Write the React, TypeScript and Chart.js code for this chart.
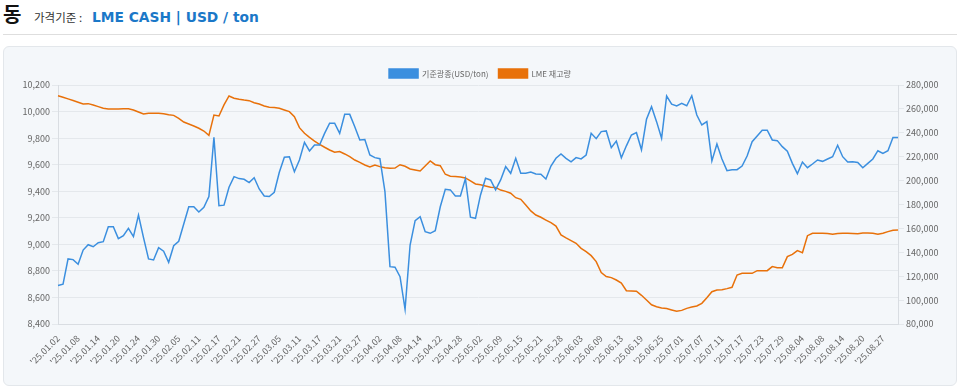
import React, { useEffect, useRef } from 'react';
import { Chart, registerables } from 'chart.js';

Chart.register(...registerables);

// Trading days (month, days) for 2025 — x-axis categories
const YEAR = '25';
const tradingDays: [number, number[]][] = [
  [1, [2, 3, 6, 7, 8, 9, 10, 13, 14, 15, 16, 17, 20, 21, 22, 23, 24, 27, 28, 29, 30, 31]],
  [2, [3, 4, 5, 6, 7, 10, 11, 12, 13, 14, 17, 18, 19, 20, 21, 24, 25, 26, 27, 28]],
  [3, [3, 4, 5, 6, 7, 10, 11, 12, 13, 14, 17, 18, 19, 20, 21, 24, 25, 26, 27, 28, 31]],
  [4, [1, 2, 3, 4, 7, 8, 9, 10, 11, 14, 15, 16, 17, 22, 23, 24, 25, 28, 29, 30]],
  [5, [1, 2, 6, 7, 8, 9, 12, 13, 14, 15, 16, 19, 20, 21, 22, 23, 27, 28, 29, 30]],
  [6, [2, 3, 4, 5, 6, 9, 10, 11, 12, 13, 16, 17, 18, 19, 20, 23, 24, 25, 26, 27, 30]],
  [7, [1, 2, 3, 4, 7, 8, 9, 10, 11, 14, 15, 16, 17, 18, 21, 22, 23, 24, 25, 28, 29, 30, 31]],
  [8, [1, 4, 5, 6, 7, 8, 11, 12, 13, 14, 15, 18, 19, 20, 21, 22, 26, 27, 28, 29]],
  [9, [1]],
];
const pad2 = (n: number) => (n < 10 ? '0' + n : '' + n);
const categories: string[] = tradingDays.flatMap(([m, ds]) =>
  ds.map((d) => `'${YEAR}.${pad2(m)}.${pad2(d)}`)
);
const LABEL_EVERY = 4;

const seriesNames = ['기준광종(USD/ton)', 'LME 재고량'];

// LME cash price (USD/ton)
const priceValues = [
  8690, 8700, 8890, 8885, 8850, 8957, 8997, 8982, 9012, 9020,
  9133, 9133, 9043, 9065, 9120, 9058, 9220, 9050, 8890, 8882,
  8975, 8948, 8865, 8990, 9023, 9153, 9283, 9283, 9243, 9278,
  9359, 9806, 9291, 9295, 9430, 9510, 9495, 9490, 9465, 9502,
  9417, 9364, 9360, 9392, 9543, 9656, 9660, 9547, 9635, 9768,
  9703, 9748, 9748, 9836, 9912, 9912, 9836, 9979, 9979, 9886,
  9786, 9790, 9673, 9653, 9645, 9397, 8832, 8828, 8756, 8511,
  8995, 9178, 9208, 9095, 9083, 9103, 9283, 9415, 9410, 9364,
  9364, 9495, 9204, 9196, 9372, 9498, 9485, 9410, 9485, 9585,
  9535, 9648, 9535, 9535, 9545, 9530, 9528, 9492, 9590, 9648,
  9680, 9648, 9622, 9653, 9643, 9673, 9836, 9796, 9849, 9854,
  9728, 9778, 9652, 9742, 9823, 9841, 9712, 9942, 10037, 9924,
  9799, 10117, 10055, 10042, 10062, 10044, 10119, 9974, 9899, 9924,
  9628, 9756, 9643, 9555, 9562, 9562, 9590, 9665, 9773, 9816,
  9859, 9859, 9786, 9781, 9736, 9701, 9610, 9532, 9620, 9577,
  9605, 9635, 9625, 9643, 9660, 9746, 9660, 9620, 9622, 9617,
  9577, 9610, 9643, 9705, 9685, 9705, 9804, 9804,
];

// LME stock (ton)
const stockValues = [
  271000, 269800, 268400, 267000, 265500, 264100, 264400, 263300, 261900, 260500,
  259900, 259900, 259900, 260200, 260200, 259100, 257400, 255700, 256300, 256300,
  256300, 256000, 255200, 254600, 252100, 249000, 247400, 245700, 243800, 241500,
  237900, 254900, 254100, 263300, 270800, 268900, 268000, 267400, 266900, 265200,
  264100, 262400, 261300, 261100, 260500, 259100, 257700, 253500, 244300, 239600,
  236200, 233100, 230400, 227900, 225600, 223700, 224300, 222300, 220000, 217200,
  215300, 213100, 211400, 213100, 211700, 210800, 210300, 210500, 213300, 212000,
  209700, 208900, 208000, 212200, 216400, 213300, 212500, 205300, 203600, 203400,
  203000, 202200, 199700, 197200, 196600, 195500, 194400, 194300, 192100, 191000,
  189400, 185700, 184300, 179600, 174600, 171200, 169300, 167000, 164800, 162000,
  154500, 152000, 149700, 147500, 143300, 140500, 137200, 132200, 123100, 119700,
  118800, 116800, 114300, 107800, 107700, 107500, 104000, 100100, 96100, 94500,
  93400, 92900, 91700, 90600, 91400, 93100, 94200, 95100, 97300, 102000,
  107000, 108500, 108700, 109600, 110700, 121000, 122400, 122400, 122400, 124600,
  124600, 124600, 128000, 127100, 127100, 136400, 138300, 141400, 139700, 153900,
  155900, 155900, 155900, 155700, 155100, 155700, 155900, 155900, 155700, 155500,
  156200, 156200, 155900, 155100, 155900, 157300, 158400, 158700,
];

const priceAxis = { min: 8400, max: 10200, step: 200 };
const stockAxis = { min: 80000, max: 280000, step: 20000 };

const BLUE = '#3b8fdf';
const ORANGE = '#e8710a';
const FONT = "'Noto Sans CJK KR', 'Noto Sans', sans-serif";

export default function App() {
  const ref = useRef<HTMLCanvasElement | null>(null);

  useEffect(() => {
    if (!ref.current) return;
    const fmt = (v: any) => Number(v).toLocaleString('en-US');
    const chart = new Chart(ref.current, {
      type: 'line',
      data: {
        labels: categories,
        datasets: [
          {
            label: seriesNames[0],
            data: priceValues,
            borderColor: BLUE,
            backgroundColor: BLUE,
            borderWidth: 1.5,
            pointRadius: 0,
            tension: 0,
            yAxisID: 'y',
          },
          {
            label: seriesNames[1],
            data: stockValues,
            borderColor: ORANGE,
            backgroundColor: ORANGE,
            borderWidth: 1.5,
            pointRadius: 0,
            tension: 0,
            yAxisID: 'y1',
          },
        ],
      },
      options: {
        responsive: false,
        animation: false,
        devicePixelRatio: 1,
        layout: { padding: { top: 12, left: 0, right: 0, bottom: 0 } },
        plugins: {
          tooltip: { enabled: false },
          legend: {
            position: 'top',
            maxHeight: 26,
            labels: {
              boxWidth: 29,
              boxHeight: 9,
              padding: 10,
              color: '#666',
              font: { family: FONT, size: 8 },
            },
          },
        },
        scales: {
          x: {
            grid: { display: false, drawTicks: false },
            border: { display: true, color: '#d9dde2' },
            ticks: {
              autoSkip: false,
              minRotation: 45,
              maxRotation: 45,
              padding: 9,
              color: '#666',
              font: { family: FONT, size: 9 },
              callback: function (this: any, v: any, i: number) {
                return i % LABEL_EVERY === 0 ? categories[i] : '';
              },
            },
            afterFit: (s: any) => {
              s.height = 62;
            },
          },
          y: {
            position: 'left',
            min: priceAxis.min,
            max: priceAxis.max,
            grid: { color: '#e4e8ec', tickLength: 6 },
            border: { display: true, color: '#d9dde2' },
            ticks: {
              stepSize: priceAxis.step,
              padding: 2,
              color: '#666',
              font: { family: FONT, size: 9 },
              callback: (v: any) => fmt(v),
            },
            afterFit: (s: any) => {
              s.width = 55;
            },
          },
          y1: {
            position: 'right',
            min: stockAxis.min,
            max: stockAxis.max,
            grid: { drawOnChartArea: false, color: '#e4e8ec', tickLength: 6 },
            border: { display: true, color: '#d9dde2' },
            ticks: {
              stepSize: stockAxis.step,
              padding: 2,
              color: '#666',
              font: { family: FONT, size: 9 },
              callback: (v: any) => fmt(v),
            },
            afterFit: (s: any) => {
              s.width = 59;
            },
          },
        },
      },
    } as any);
    return () => chart.destroy();
  }, []);

  return (
    <div
      style={{
        position: 'fixed',
        left: 0,
        top: 0,
        width: 960,
        height: 389,
        background: '#fff',
        overflow: 'hidden',
        fontFamily: FONT,
      }}
    >
      <span
        style={{
          position: 'absolute',
          left: 3,
          top: 4,
          fontSize: 20,
          lineHeight: '20px',
          fontWeight: 700,
          color: '#111',
          whiteSpace: 'nowrap',
        }}
      >
        동
      </span>
      <span
        style={{
          position: 'absolute',
          left: 34,
          top: 12,
          fontSize: 11.5,
          lineHeight: '11.5px',
          color: '#333',
          whiteSpace: 'nowrap',
        }}
      >
        가격기준 :
      </span>
      <span
        style={{
          position: 'absolute',
          left: 92,
          top: 10,
          fontSize: 13.8,
          lineHeight: '14px',
          fontWeight: 700,
          fontFamily: "'DejaVu Sans', sans-serif",
          color: '#1b78c8',
          whiteSpace: 'nowrap',
        }}
      >
        LME CASH | USD / ton
      </span>
      <div
        style={{
          position: 'absolute',
          left: 3,
          top: 34,
          width: 954,
          height: 1,
          background: '#dedede',
        }}
      />
      <div
        style={{
          position: 'absolute',
          left: 3,
          top: 46,
          width: 954,
          height: 340,
          boxSizing: 'border-box',
          border: '1px solid #e3e7eb',
          borderRadius: 6,
          background: '#f4f7fa',
        }}
      />
      <canvas
        ref={ref}
        width={954}
        height={339}
        style={{ position: 'absolute', left: 3, top: 47, width: 954, height: 339 }}
      />
    </div>
  );
}
